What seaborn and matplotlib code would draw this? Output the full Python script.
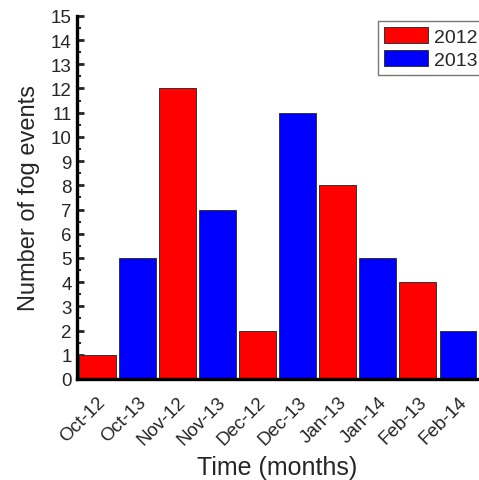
import matplotlib
matplotlib.use("Agg")
import matplotlib.pyplot as plt
from matplotlib.ticker import MultipleLocator
import seaborn as sns
import pandas as pd

months = ["Oct-12", "Oct-13", "Nov-12", "Nov-13", "Dec-12",
          "Dec-13", "Jan-13", "Jan-14", "Feb-13", "Feb-14"]
years = ["2012", "2013", "2012", "2013", "2012",
         "2013", "2012", "2013", "2012", "2013"]
fog_events = [1, 5, 12, 7, 2, 11, 8, 5, 4, 2]

df = pd.DataFrame({"month": months, "year": years, "events": fog_events})

sns.set_style("ticks")
plt.rcParams["font.family"] = ["Liberation Sans", "DejaVu Sans"]

fig = plt.figure(figsize=(4.79, 4.81), dpi=100)
ax = fig.add_axes([0.161, 0.21, 0.837, 0.755])

sns.barplot(data=df, x="month", y="events", hue="year", order=months,
            hue_order=["2012", "2013"], dodge=False, width=0.92,
            palette={"2012": "#ff0000", "2013": "#0000ff"}, saturation=1,
            edgecolor="#333333", linewidth=0.7, ax=ax)

ax.set_xlim(-0.5, len(months) - 0.5)
ax.set_ylim(0, 15)
ax.yaxis.set_major_locator(MultipleLocator(1))
ax.yaxis.set_minor_locator(MultipleLocator(0.5))

for side in ["top", "right"]:
    ax.spines[side].set_visible(False)
for side in ["left", "bottom"]:
    ax.spines[side].set_linewidth(2.4)
    ax.spines[side].set_color("black")

ax.tick_params(axis="both", which="major", direction="in", length=5,
               width=2, labelsize=13.5, pad=4)
ax.tick_params(axis="y", which="minor", direction="in", length=3, width=1.5)
ax.tick_params(axis="x", labelsize=13.5, pad=10)
plt.setp(ax.get_xticklabels(), rotation=45, ha="right", rotation_mode="anchor")

ax.set_xlabel("Time (months)", fontsize=18, labelpad=5)
ax.set_ylabel("Number of fog events", fontsize=17, labelpad=8)

leg = ax.legend(loc="upper right", bbox_to_anchor=(1.012, 0.985),
                fontsize=14, frameon=True, fancybox=False,
                edgecolor="#555555", borderpad=0.3, handlelength=2.25,
                handleheight=0.85, handletextpad=0.3, labelspacing=0.25,
                borderaxespad=0.0)
leg.get_frame().set_linewidth(1.0)

fig.savefig("out.png", dpi=100)
